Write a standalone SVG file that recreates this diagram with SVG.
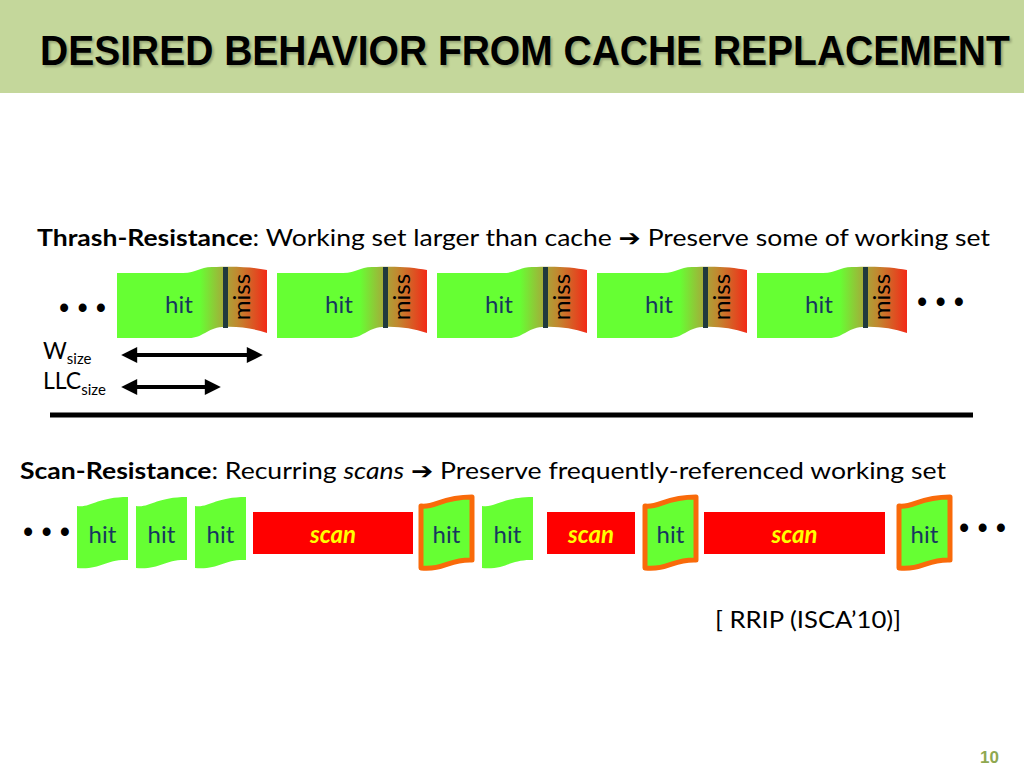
<svg xmlns="http://www.w3.org/2000/svg" width="1024" height="768" viewBox="0 0 1024 768">
<style>
.t{font-family:"Lato","Open Sans","Liberation Sans",sans-serif;fill:#000}
.hit{font-family:"Lato","Open Sans","Liberation Sans",sans-serif;font-size:24px;fill:#17375e;text-anchor:middle}
.miss{font-family:"Lato","Open Sans","Liberation Sans",sans-serif;font-size:24px;fill:#000;text-anchor:middle}
.scan{font-family:"Lato","Open Sans","Liberation Sans",sans-serif;font-size:24px;font-weight:bold;font-style:italic;fill:#ffff00;text-anchor:middle}
.g{fill:#66ff33}
.o{fill:#66ff33;stroke:#f96a0a;stroke-width:5;stroke-linejoin:round}
.sc{fill:#ff0000}
.dots{font-family:"Liberation Sans",sans-serif;font-size:32px;fill:#000}
.arr{stroke:#000;stroke-width:4;marker-start:url(#ah);marker-end:url(#ah)}
.title{font-family:"Liberation Sans",Arial,sans-serif;font-weight:bold;font-size:39px}
</style>
<defs>
<linearGradient id="hm" x1="0" y1="0" x2="1" y2="0">
<stop offset="0" stop-color="#66ff33"/>
<stop offset="0.55" stop-color="#66ff33"/>
<stop offset="0.72" stop-color="#a8a63a"/>
<stop offset="0.8" stop-color="#c08a30"/>
<stop offset="1" stop-color="#f22a18"/>
</linearGradient>
<path id="wave" d="M0,273 L66,273 C80,273 82,267 95,267 C120,266 135,267 150,270 L150,333 C135,328 120,326 105,327 C90,328 86,338 72,338 L0,338 Z"/>
<path id="sw" d="M0,9 C14,11 20,0 51,0 L51,63 C28,62 24,73 0,71 Z"/>
<marker id="ah" viewBox="0 0 10 10" refX="2" refY="5" markerUnits="userSpaceOnUse" markerWidth="18" markerHeight="16" orient="auto-start-reverse">
<path d="M0,0 L10,5 L0,10 Z" fill="#000"/>
</marker>
<filter id="sh" x="-5%" y="-20%" width="110%" height="140%"><feGaussianBlur stdDeviation="1.2"/></filter>
</defs>
<rect x="0" y="0" width="1024" height="768" fill="#fff"/>
<g id="header">
<rect x="0" y="0" width="1024" height="93" fill="#c4d79b"/>
<text class="title" transform="translate(42,67) scale(1,1.08)" fill="#6e7a56" opacity="0.55" filter="url(#sh)">DESIRED BEHAVIOR FROM CACHE REPLACEMENT</text>
<text class="title" transform="translate(40,65) scale(1,1.08)" fill="#000">DESIRED BEHAVIOR FROM CACHE REPLACEMENT</text>
</g>
<g id="thrash-title">
<text class="t" x="37" y="246" font-size="23" textLength="953" lengthAdjust="spacingAndGlyphs"><tspan font-weight="bold">Thrash-Resistance</tspan>: Working set larger than cache <tspan font-family="DejaVu Sans,sans-serif" font-weight="bold">➔</tspan> Preserve some of working set</text>
</g>
<g id="row1">
<text class="dots" x="59" y="318" textLength="47" lengthAdjust="spacingAndGlyphs">• • •</text>
<g id="b1" transform="translate(117,0)"><use href="#wave" fill="url(#hm)"/><rect x="106" y="267" width="5" height="61" fill="#1f3a3d"/><text class="hit" x="62" y="313">hit</text><text class="miss" transform="translate(125,297) rotate(-90)" y="8">miss</text></g>
<g id="b2" transform="translate(277,0)"><use href="#wave" fill="url(#hm)"/><rect x="106" y="267" width="5" height="61" fill="#1f3a3d"/><text class="hit" x="62" y="313">hit</text><text class="miss" transform="translate(125,297) rotate(-90)" y="8">miss</text></g>
<g id="b3" transform="translate(437,0)"><use href="#wave" fill="url(#hm)"/><rect x="106" y="267" width="5" height="61" fill="#1f3a3d"/><text class="hit" x="62" y="313">hit</text><text class="miss" transform="translate(125,297) rotate(-90)" y="8">miss</text></g>
<g id="b4" transform="translate(597,0)"><use href="#wave" fill="url(#hm)"/><rect x="106" y="267" width="5" height="61" fill="#1f3a3d"/><text class="hit" x="62" y="313">hit</text><text class="miss" transform="translate(125,297) rotate(-90)" y="8">miss</text></g>
<g id="b5" transform="translate(757,0)"><use href="#wave" fill="url(#hm)"/><rect x="106" y="267" width="5" height="61" fill="#1f3a3d"/><text class="hit" x="62" y="313">hit</text><text class="miss" transform="translate(125,297) rotate(-90)" y="8">miss</text></g>
<text class="dots" x="917" y="312" textLength="47" lengthAdjust="spacingAndGlyphs">• • •</text>
</g>
<g id="sizes">
<text class="t" x="43" y="359" font-size="23">W<tspan font-size="15" dy="5">size</tspan></text>
<text class="t" x="43" y="389" font-size="23">LLC<tspan font-size="15" dy="6">size</tspan></text>
</g>
<g id="connectors">
<line class="arr" x1="134" y1="355" x2="250" y2="355"/>
<line class="arr" x1="134" y1="387" x2="208" y2="387"/>
<line x1="50" y1="415" x2="973" y2="415" stroke="#000" stroke-width="5"/>
</g>
<g id="scan-title">
<text class="t" x="20" y="479" font-size="23" textLength="926" lengthAdjust="spacingAndGlyphs"><tspan font-weight="bold">Scan-Resistance</tspan>: Recurring <tspan font-style="italic">scans</tspan> <tspan font-family="DejaVu Sans,sans-serif" font-weight="bold">➔</tspan> Preserve frequently-referenced working set</text>
</g>
<g id="row2">
<text class="dots" x="23" y="542" textLength="47" lengthAdjust="spacingAndGlyphs">• • •</text>
<g id="h1" transform="translate(77,497)"><use href="#sw" class="g"/><text class="hit" x="25.5" y="46">hit</text></g>
<g id="h2" transform="translate(136,497)"><use href="#sw" class="g"/><text class="hit" x="25.5" y="46">hit</text></g>
<g id="h3" transform="translate(195,497)"><use href="#sw" class="g"/><text class="hit" x="25.5" y="46">hit</text></g>
<g id="s1"><rect class="sc" x="253" y="512" width="160" height="42"/><text class="scan" x="333" y="543">scan</text></g>
<g id="h4" transform="translate(421,497)"><use href="#sw" class="o"/><text class="hit" x="25.5" y="46">hit</text></g>
<g id="h5" transform="translate(482,497)"><use href="#sw" class="g"/><text class="hit" x="25.5" y="46">hit</text></g>
<g id="s2"><rect class="sc" x="547" y="512" width="88" height="42"/><text class="scan" x="591" y="543">scan</text></g>
<g id="h6" transform="translate(645,497)"><use href="#sw" class="o"/><text class="hit" x="25.5" y="46">hit</text></g>
<g id="s3"><rect class="sc" x="704" y="512" width="181" height="42"/><text class="scan" x="794.5" y="543">scan</text></g>
<g id="h7" transform="translate(899,497)"><use href="#sw" class="o"/><text class="hit" x="25.5" y="46">hit</text></g>
<text class="dots" x="959" y="538" textLength="47" lengthAdjust="spacingAndGlyphs">• • •</text>
</g>
<g id="ref"><text class="t" x="715" y="628" font-size="23" textLength="186" lengthAdjust="spacingAndGlyphs">[ RRIP (ISCA’10)]</text></g>
<g id="page"><text x="980" y="763" font-family="Liberation Sans,Arial,sans-serif" font-weight="bold" font-size="17" fill="#8fa850">10</text></g>
</svg>
